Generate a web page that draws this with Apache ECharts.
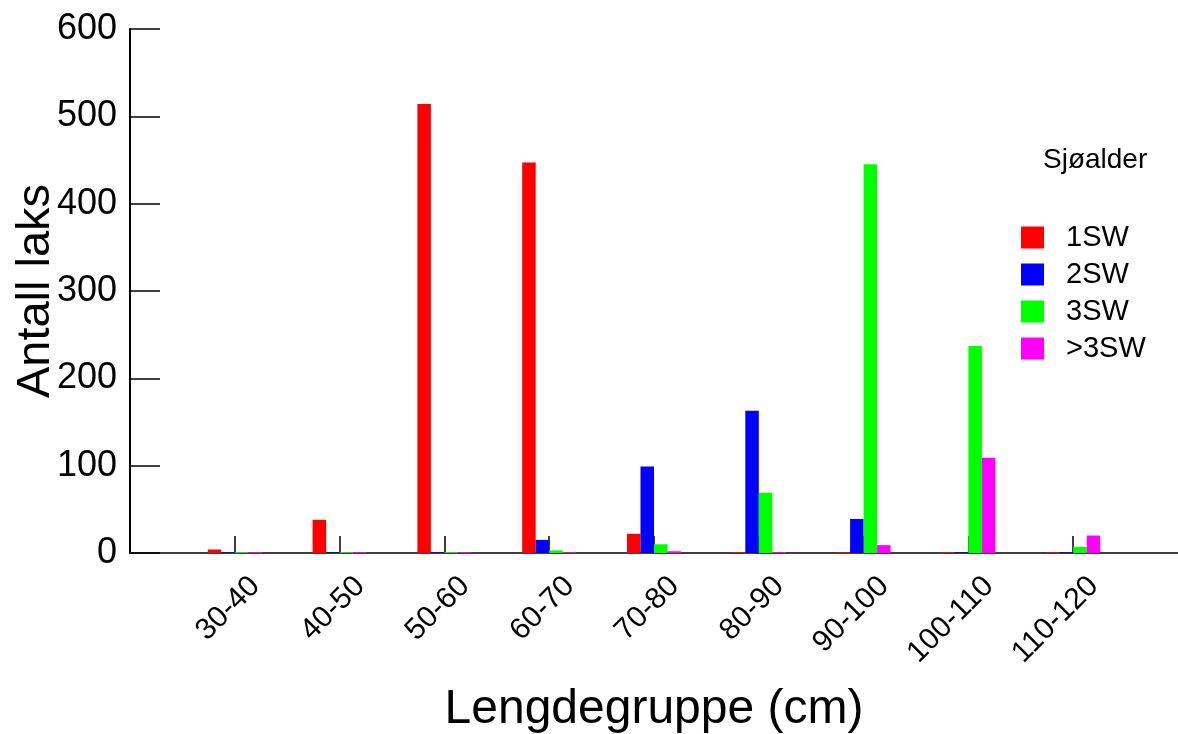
<!DOCTYPE html>
<html>
<head>
<meta charset="utf-8">
<script src="https://cdn.jsdelivr.net/npm/echarts@6/dist/echarts.min.js"></script>
<style>
html,body{margin:0;padding:0;background:#fff;}
#chart{width:1178px;height:734px;}
</style>
</head>
<body>
<div id="chart"></div>
<script>
const categories = ['30-40','40-50','50-60','60-70','70-80','80-90','90-100','100-110','110-120'];
const seriesNames = ['1SW','2SW','3SW','>3SW'];
const sw1 = [4, 38, 514, 447, 22, 1, 1, 1, 1];
const sw2 = [1, 1, 1, 15, 99, 163, 39, 1, 1];
const sw3 = [1, 1, 1, 3, 10, 69, 445, 237, 7];
const sw4 = [1, 1, 1, 1, 2, 1, 9, 109, 20];
const colors = ['#FF0000', '#0000FF', '#00FF00', '#FF00FF'];
const yTicks = [0, 100, 200, 300, 400, 500, 600];

const FONT = '"Liberation Sans", Arial, sans-serif';
const padCats = [''].concat(categories, ['']);
const pad = a => [null].concat(a, [null]);
const allSeries = [sw1, sw2, sw3, sw4];

const chart = echarts.init(document.getElementById('chart'));
chart.setOption({
  animation: false,
  backgroundColor: '#fff',
  title: {
    text: 'Sjøalder',
    left: 1043, top: 146, padding: 0,
    textStyle: {fontFamily: FONT, fontSize: 28, fontWeight: 'normal', color: '#000'}
  },
  legend: {
    orient: 'vertical',
    left: 1021, top: 223, padding: 0,
    itemWidth: 23, itemHeight: 22, itemGap: 8,
    icon: 'rect',
    data: seriesNames,
    textStyle: {fontFamily: FONT, fontSize: 29, color: '#000', lineHeight: 28, padding: [0, 0, 0, 17]}
  },
  grid: {left: 130, right: 0, top: 29, bottom: 181, containLabel: false, outerBoundsMode: 'none'},
  xAxis: {
    type: 'category',
    data: padCats,
    boundaryGap: false,
    name: 'Lengdegruppe (cm)',
    nameLocation: 'middle',
    nameGap: 133,
    nameMoveOverlap: false,
    nameTextStyle: {fontFamily: FONT, fontSize: 48, color: '#000'},
    axisLine: {show: true, lineStyle: {color: '#000', width: 1.5}},
    axisTick: {show: true, inside: true, length: 17, lineStyle: {color: '#000', width: 1.5},
      interval: (i, v) => v !== ''},
    axisLabel: {interval: 0, rotate: 45, margin: 8, fontFamily: FONT, fontSize: 30, color: '#000',
      verticalAlign: 'top', lineHeight: 30, padding: [14, 0, 0, 0]},
    splitLine: {show: false}
  },
  yAxis: {
    type: 'value',
    min: yTicks[0], max: yTicks[yTicks.length - 1], interval: 100,
    name: 'Antall laks',
    nameLocation: 'middle',
    nameGap: 70,
    nameMoveOverlap: false,
    nameTextStyle: {fontFamily: FONT, fontSize: 47, color: '#000'},
    axisLine: {show: true, lineStyle: {color: '#000', width: 2}},
    axisTick: {show: true, inside: true, length: 30, lineStyle: {color: '#000', width: 1.5}},
    axisLabel: {margin: 13, fontFamily: FONT, fontSize: 36, color: '#000'},
    splitLine: {show: false}
  },
  series: seriesNames.map((n, i) => ({
    name: n,
    type: 'bar',
    data: pad(allSeries[i]),
    barWidth: 13.5,
    barGap: '0%',
    itemStyle: {color: colors[i]}
  }))
});
</script>
</body>
</html>
